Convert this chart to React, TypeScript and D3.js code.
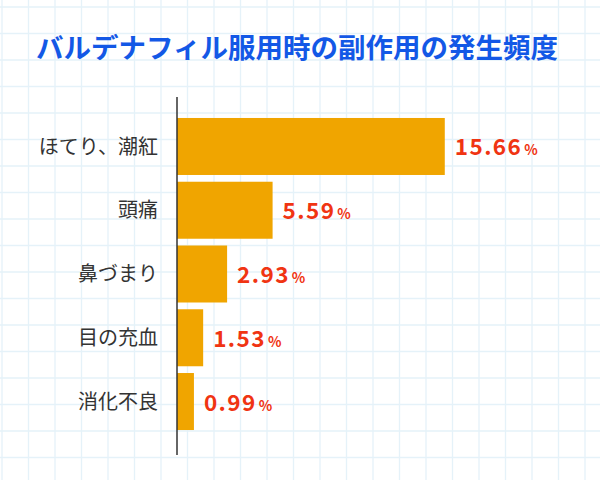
import React from "react";
import * as d3 from "d3";

const categories = ["ほてり、潮紅", "頭痛", "鼻づまり", "目の充血", "消化不良"];
const rates = [15.66, 5.59, 2.93, 1.53, 0.99];
const titleText = "バルデナフィル服用時の副作用の発生頻度";

const W = 600;
const H = 480;
const FONT = "'Noto Sans CJK JP', 'Noto Sans', sans-serif";

export default function App() {
  const x = d3.scaleLinear().domain([0, 16]).range([177, 450.6]);
  const y = d3
    .scaleBand<string>()
    .domain(categories)
    .range([114.6, 433.4])
    .paddingInner(0.106)
    .paddingOuter(0.053);

  // background grid
  const step = 26.5;
  const vLines = d3.range(2, W, step);
  const hLines = d3.range(7, H, step);

  return (
    <svg
      width={W}
      height={H}
      style={{ position: "absolute", left: 0, top: 0, background: "#fff" }}
      fontFamily={FONT}
    >
      <rect width={W} height={H} fill="#fff" />
      <g stroke="#e5f2f9" strokeWidth={1.3}>
        {vLines.map((v) => (
          <line key={"v" + v} x1={v} x2={v} y1={0} y2={H} />
        ))}
        {hLines.map((v) => (
          <line key={"h" + v} x1={0} x2={W} y1={v} y2={v} />
        ))}
      </g>

      <text
        x={297}
        y={58}
        textAnchor="middle"
        fontSize={27.5}
        fontWeight="bold"
        fill="#1358e6"
      >
        {titleText}
      </text>

      {categories.map((c, i) => {
        const y0 = y(c)!;
        const cy = y0 + y.bandwidth() / 2;
        return (
          <g key={c}>
            <rect
              x={x(0)}
              y={y0}
              width={x(rates[i]) - x(0)}
              height={y.bandwidth()}
              fill="#f0a500"
            />
            <text
              x={158}
              y={cy}
              dy="0.36em"
              textAnchor="end"
              fontSize={20}
              fill="#333"
            >
              {c}
            </text>
            <text x={x(rates[i]) + 10} y={cy + 9} fill="#f03412" fontWeight="bold">
              <tspan fontSize={22.5} letterSpacing={1.4}>
                {rates[i].toFixed(2)}
              </tspan>
              <tspan fontSize={14} dx={2}>%</tspan>
            </text>
          </g>
        );
      })}

      <line x1={x(0)} x2={x(0)} y1={97} y2={455} stroke="#333" strokeWidth={1.5} />
    </svg>
  );
}
